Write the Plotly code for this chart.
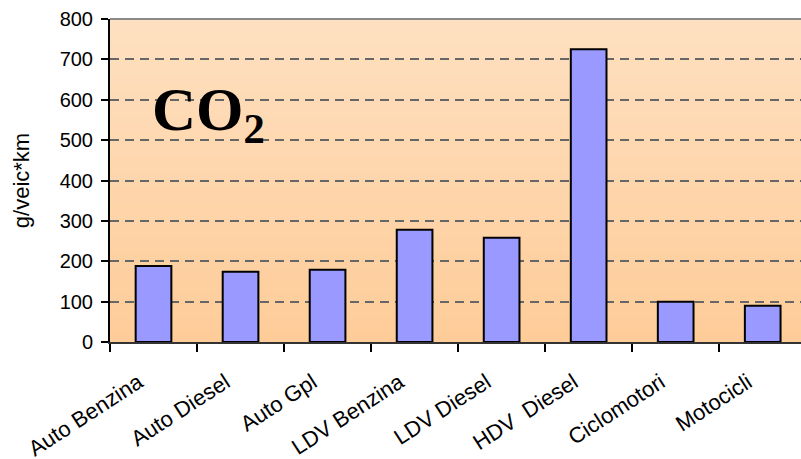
import plotly.graph_objects as go

# Emission factors per vehicle class
categories = ["Auto Benzina", "Auto Diesel", "Auto Gpl", "LDV Benzina",
              "LDV Diesel", "HDV  Diesel", "Ciclomotori", "Motocicli"]
co2_values = [188, 174, 179, 278, 258, 725, 100, 90]
y_ticks = [0, 100, 200, 300, 400, 500, 600, 700, 800]

fig = go.Figure()

fig.add_trace(go.Bar(
    x=categories,
    y=co2_values,
    width=0.41,
    marker=dict(color="#9999FF", line=dict(color="#000000", width=2)),
))

# Vertical peach gradient behind the plot area
top_rgb = (254, 224, 192)
bot_rgb = (254, 204, 153)
n_strips = 40
shapes = []
for i in range(n_strips):
    t = i / (n_strips - 1)
    r = round(bot_rgb[0] + (top_rgb[0] - bot_rgb[0]) * t)
    g = round(bot_rgb[1] + (top_rgb[1] - bot_rgb[1]) * t)
    b = round(bot_rgb[2] + (top_rgb[2] - bot_rgb[2]) * t)
    shapes.append(dict(
        type="rect", xref="paper", yref="paper",
        x0=0, x1=1, y0=i / n_strips, y1=(i + 1) / n_strips + 0.002,
        fillcolor=f"rgb({r},{g},{b})", line=dict(width=0), layer="below",
    ))
# Top border of the plot area
shapes.append(dict(
    type="line", xref="paper", yref="paper", x0=0, x1=1, y0=1, y1=1,
    line=dict(color="#8a8a8a", width=2), layer="above",
))

fig.update_layout(
    width=801,
    height=459,
    margin=dict(l=110, r=0, t=19, b=117),
    paper_bgcolor="#ffffff",
    plot_bgcolor="rgb(254,214,170)",
    showlegend=False,
    shapes=shapes,
    font=dict(family="Liberation Sans, Arial, sans-serif", color="#000000"),
    annotations=[dict(
        text="<b>CO<sub>2</sub></b>",
        xref="paper", yref="paper",
        x=0.058, y=0.705, xanchor="left", yanchor="middle",
        showarrow=False,
        font=dict(family="Liberation Serif, Times New Roman, serif", size=61, color="#000000"),
    )],
)

fig.update_xaxes(
    type="category",
    range=[-0.5, 7.44],
    automargin=False,
    showline=True, linecolor="#333333", linewidth=2,
    ticks="outside", tickson="boundaries", ticklen=8, tickcolor="#000000", tickwidth=1.5,
    tickangle=-33,
    tickfont=dict(size=22),
    showgrid=False,
    ticklabelstandoff=17,
    ticklabelshift=-15,
)

fig.update_yaxes(
    range=[0, 800],
    automargin=False,
    tickvals=y_ticks,
    ticktext=[str(v) for v in y_ticks],
    showline=True, linecolor="#000000", linewidth=2,
    ticks="outside", ticklen=7, tickcolor="#000000", tickwidth=1.5,
    tickfont=dict(size=20),
    ticklabelstandoff=4,
    showgrid=True, gridcolor="#666666", gridwidth=1.5, griddash="9px,6px",
    zeroline=False,
    title=dict(text="g/veic*km", font=dict(size=22), standoff=24),
)

fig.write_html("out.html")
